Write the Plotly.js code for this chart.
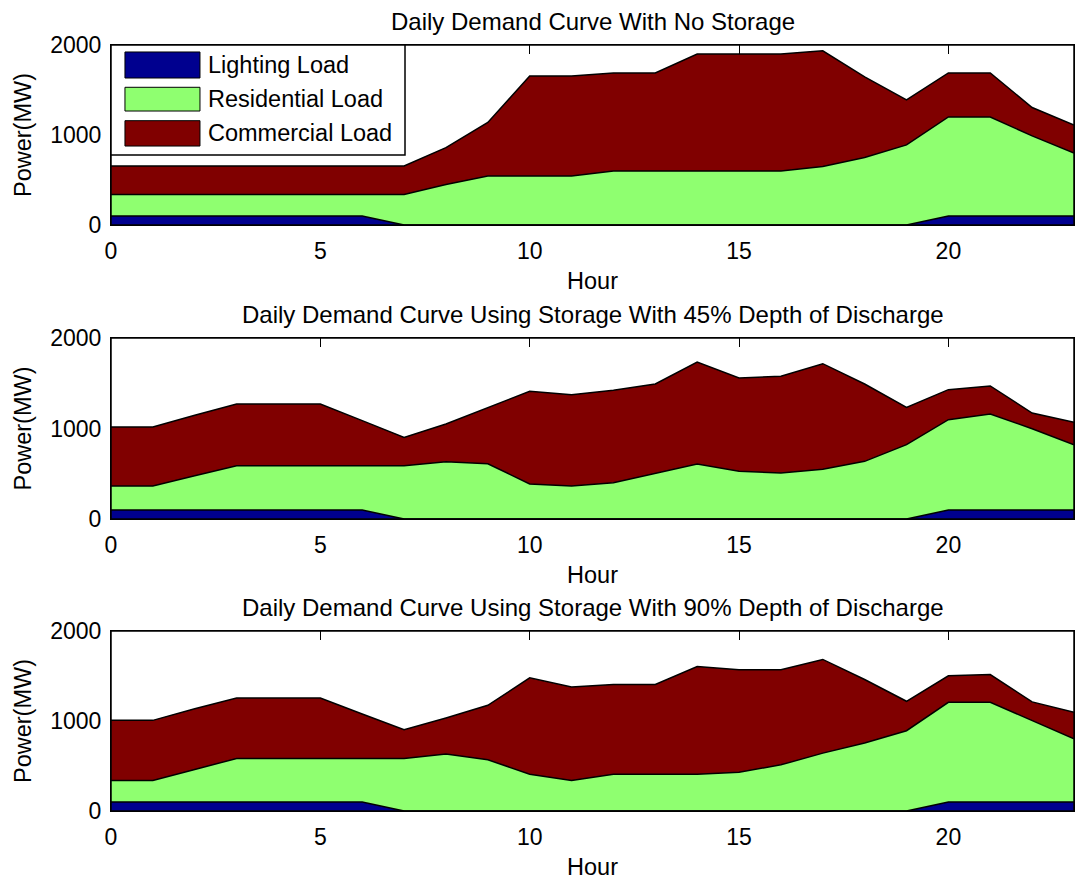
<!DOCTYPE html>
<html>
<head>
<meta charset="utf-8">
<script src="https://cdn.plot.ly/plotly-3.0.1.min.js"></script>
<style>
  html, body { margin: 0; padding: 0; background: #ffffff; }
  #chart { width: 1078px; height: 888px; }
</style>
</head>
<body>
<div id="chart"></div>
<script>
// ---------- data ----------
const hours = [0,1,2,3,4,5,6,7,8,9,10,11,12,13,14,15,16,17,18,19,20,21,22,23];
const seriesNames = ['Lighting Load', 'Residential Load', 'Commercial Load'];
const titles = [
  'Daily Demand Curve With No Storage',
  'Daily Demand Curve Using Storage With 45% Depth of Discharge',
  'Daily Demand Curve Using Storage With 90% Depth of Discharge'
];
const xTickVals = [0, 5, 10, 15, 20];
const yTickVals = [0, 1000, 2000];
const xLabel = 'Hour';
const yLabel = 'Power(MW)';

// No storage
const lighting1    = [100,100,100,100,100,100,100,0,0,0,0,0,0,0,0,0,0,0,0,0,100,100,100,100];
const residential1 = [240,240,240,240,240,240,240,340,450,545,545,545,600,600,600,600,600,650,750,890,1100,1100,890,700];
const commercial1  = [315,315,315,315,315,315,315,315,410,595,1110,1110,1090,1090,1300,1300,1300,1285,895,500,490,490,315,310];

// 45% depth of discharge
const lighting2    = [100,100,100,100,100,100,100,0,0,0,0,0,0,0,0,0,0,0,0,0,100,100,100,100];
const residential2 = [265,265,378,489,489,489,489,589,633,611,387,365,400,508,608,527,508,549,637,821,997,1060,898,721];
const commercial2  = [652,652,668,682,682,682,498,313,417,616,1024,1009,1022,984,1127,1031,1069,1167,855,413,332,310,173,247];

// 90% depth of discharge
const lighting3    = [100,100,100,100,100,100,100,0,0,0,0,0,0,0,0,0,0,0,0,0,100,100,100,100];
const residential3 = [238,238,361,484,484,484,484,584,632,569,409,338,409,409,409,431,513,643,755,892,1108,1108,904,703];
const commercial3  = [669,669,676,672,672,672,494,319,401,605,1070,1041,996,996,1197,1138,1056,1041,706,327,294,308,208,293];

// ---------- styling ----------
const colors = ['#00008F', '#8FFF70', '#800000'];
const FONT = '"Liberation Sans", Arial, Helvetica, sans-serif';
const panels = [
  {L: lighting1, R: residential1, C: commercial1},
  {L: lighting2, R: residential2, C: commercial2},
  {L: lighting3, R: residential3, C: commercial3}
];
const domains = [[0.765, 1.0], [0.3812, 0.6175], [0.0, 0.235]];

const traces = [];
panels.forEach((p, i) => {
  const ax = i === 0 ? '' : String(i + 1);
  [p.L, p.R, p.C].forEach((vals, k) => {
    traces.push({
      type: 'scatter', mode: 'lines',
      x: hours, y: vals,
      name: seriesNames[k],
      stackgroup: 'g' + i,
      line: {color: '#000000', width: 1.5},
      fillcolor: colors[k],
      xaxis: 'x' + ax, yaxis: 'y' + ax,
      showlegend: false,
      hoverinfo: 'x+y+name'
    });
  });
});

const layout = {
  width: 1078, height: 888,
  paper_bgcolor: '#ffffff', plot_bgcolor: '#ffffff',
  margin: {l: 111, r: 4, t: 45, b: 77},
  showlegend: false,
  font: {family: FONT, color: '#000000', size: 23},
  annotations: [],
  shapes: []
};

domains.forEach((d, i) => {
  const ax = i === 0 ? '' : String(i + 1);
  layout['xaxis' + ax] = {
    domain: [0, 1], anchor: 'y' + ax,
    range: [0, 23], tickvals: xTickVals, ticktext: xTickVals.map(String),
    ticks: 'inside', ticklen: 9, tickwidth: 1, tickcolor: '#000000',
    mirror: 'ticks', showline: true, linecolor: '#000000', linewidth: 1,
    showgrid: false, zeroline: false, layer: 'below traces',
    tickfont: {family: FONT, size: 23, color: '#000000'},
    ticklabelstandoff: 5,
    automargin: false, fixedrange: true,
    title: {text: xLabel, font: {family: FONT, size: 23.5, color: '#000000'}, standoff: 9}
  };
  layout['yaxis' + ax] = {
    domain: d, anchor: 'x' + ax,
    range: [0, 2000], tickvals: yTickVals, ticktext: yTickVals.map(String),
    ticks: 'inside', ticklen: 9, tickwidth: 1, tickcolor: '#000000',
    mirror: 'ticks', showline: true, linecolor: '#000000', linewidth: 1,
    showgrid: false, zeroline: false, layer: 'below traces',
    tickfont: {family: FONT, size: 23, color: '#000000'},
    ticklabelstandoff: 4,
    automargin: false, fixedrange: true,
    title: {text: yLabel, font: {family: FONT, size: 23.5, color: '#000000'}, standoff: 11}
  };
  layout.annotations.push({
    xref: 'paper', yref: 'paper', x: 0.5, y: d[1],
    xanchor: 'center', yanchor: 'bottom', yshift: 8,
    text: titles[i], showarrow: false,
    font: {family: FONT, size: 24, color: '#000000'}
  });
  layout.shapes.push({
    type: 'rect', xref: 'x' + ax + ' domain', yref: 'y' + ax + ' domain',
    x0: 0, x1: 1, y0: 0, y1: 1,
    line: {color: '#000000', width: 1.5}, fillcolor: 'rgba(0,0,0,0)', layer: 'above'
  });
});

// custom legend (MATLAB style) in the first panel
const lgLeft = 0, lgRight = 0.3053, lgTop = 1.0, lgBottom = 0.8564;
layout.shapes.push({
  type: 'rect', xref: 'paper', yref: 'paper',
  x0: lgLeft, x1: lgRight, y0: lgBottom, y1: lgTop,
  line: {color: '#000000', width: 1.5}, fillcolor: '#ffffff', layer: 'above'
});
const rowTops = [0.9909, 0.9448, 0.9012];
const rowBots = [0.9569, 0.9138, 0.8681];
seriesNames.forEach((nm, k) => {
  layout.shapes.push({
    type: 'rect', xref: 'paper', yref: 'paper',
    x0: 0.0145, x1: 0.0924, y0: rowBots[k], y1: rowTops[k],
    line: {color: '#000000', width: 1}, fillcolor: colors[k], layer: 'above'
  });
  layout.annotations.push({
    xref: 'paper', yref: 'paper', x: 0.0990, y: (rowTops[k] + rowBots[k]) / 2,
    xanchor: 'left', yanchor: 'middle', text: nm, showarrow: false,
    font: {family: FONT, size: 23.5, color: '#000000'}
  });
});

Plotly.newPlot('chart', traces, layout, {displayModeBar: false, staticPlot: true});
</script>
</body>
</html>
